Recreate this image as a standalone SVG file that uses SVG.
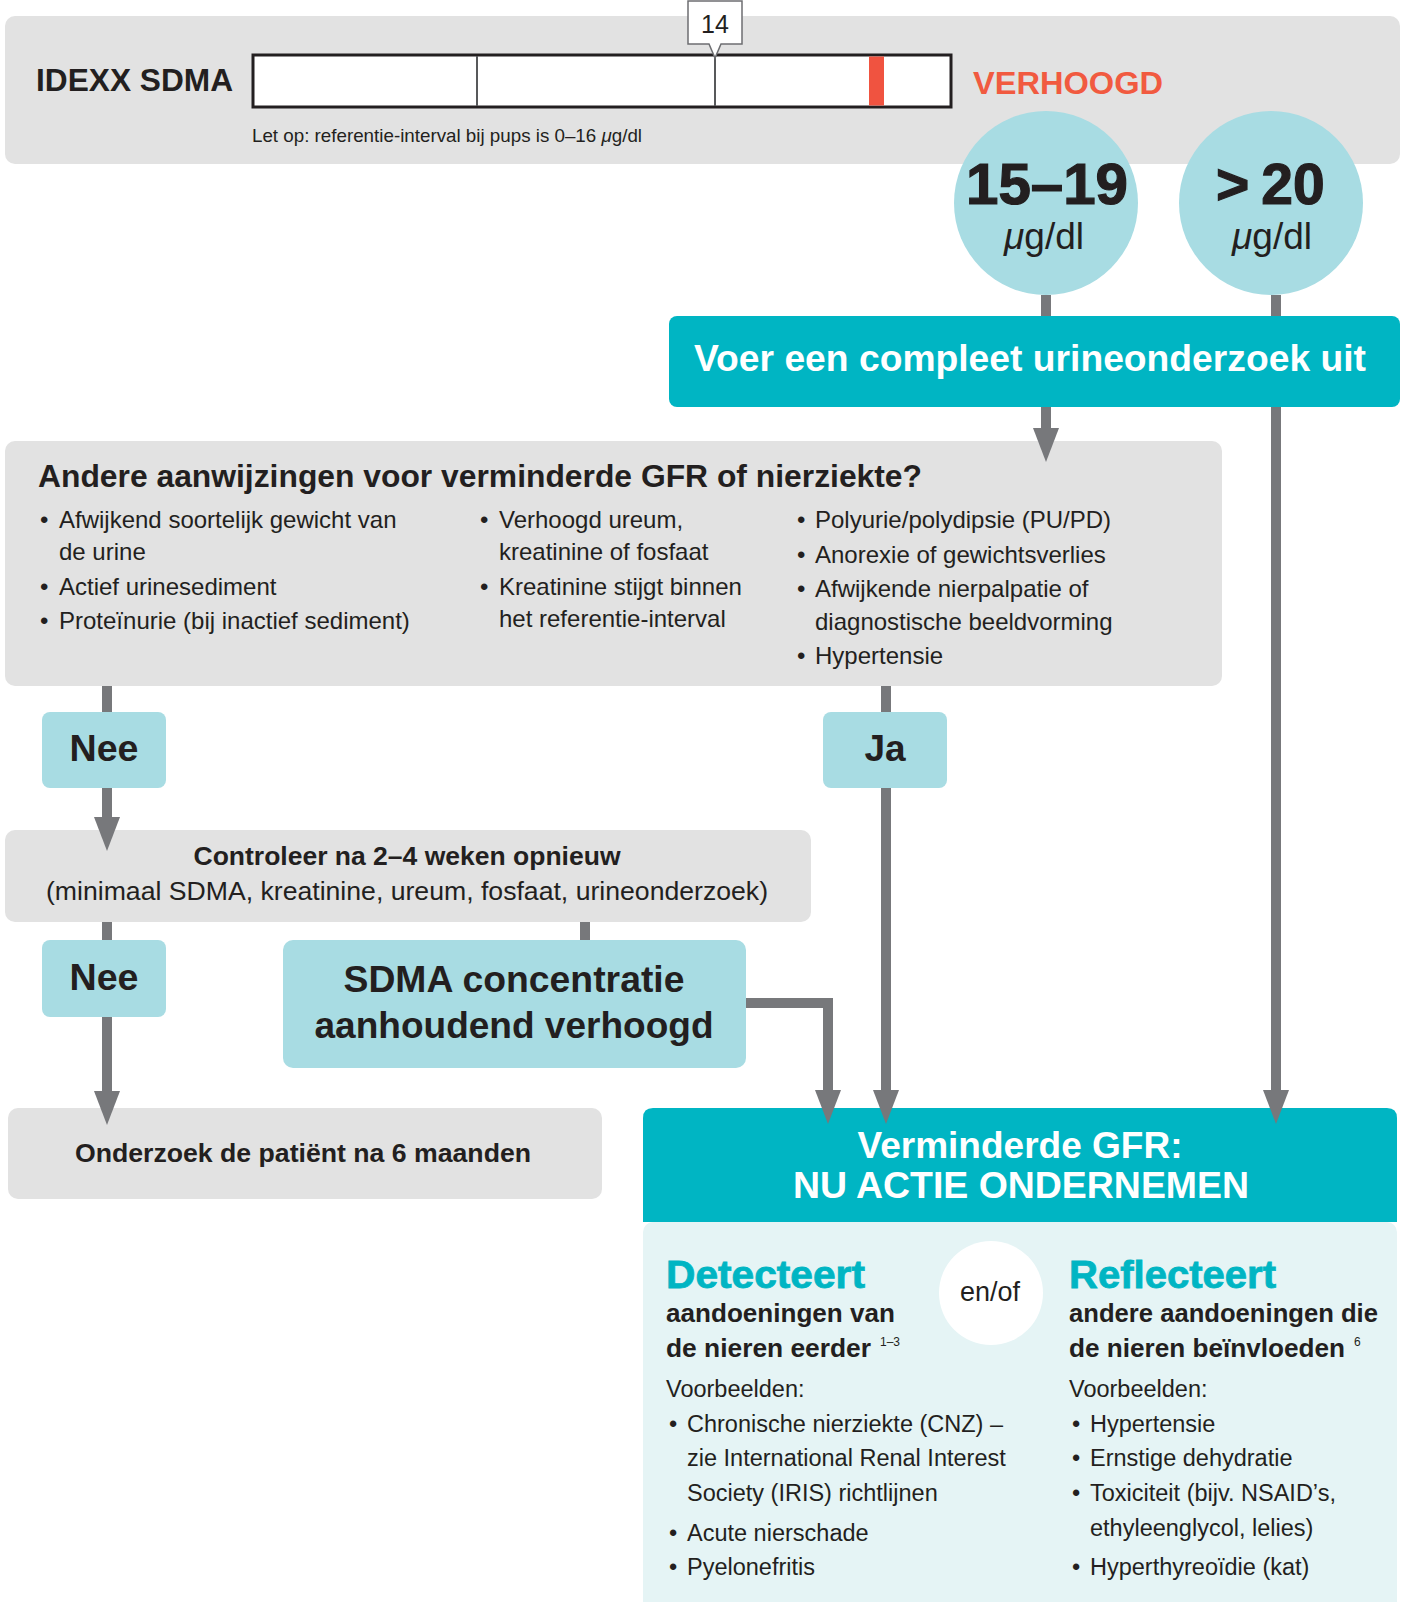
<svg xmlns="http://www.w3.org/2000/svg" width="1405" height="1602" viewBox="0 0 1405 1602">
<style>
text { font-family: "Liberation Sans", Arial, Helvetica, sans-serif; fill: #231f20; }
.b { font-weight: bold; }
.w { fill: #ffffff; }
.grey { fill: #e2e2e2; }
.cyan { fill: #a8dce3; }
.teal { fill: #00b5c3; }
.bul { font-size: 24px; }
.bul2 { font-size: 23.5px; }
.mid { text-anchor: middle; }
.conn { fill: none; stroke: #77787b; stroke-width: 10; stroke-linejoin: miter; }
</style>
<defs>
<marker id="ah" markerUnits="userSpaceOnUse" markerWidth="34" markerHeight="26" viewBox="0 0 34 26" refX="1" refY="13" orient="auto">
<path d="M0,0 L34,13 L0,26 Z" fill="#77787b"/>
</marker>
</defs>

<g id="sdma-scale">
<rect class="grey" x="5" y="16" width="1395" height="148" rx="10"/>
<text class="b" x="36" y="91" font-size="31.5" textLength="197" lengthAdjust="spacingAndGlyphs">IDEXX SDMA</text>
<rect x="253" y="55" width="698" height="52" fill="#ffffff" stroke="#231f20" stroke-width="3"/>
<line x1="477" y1="56" x2="477" y2="106" stroke="#58595b" stroke-width="2"/>
<line x1="715" y1="56" x2="715" y2="106" stroke="#58595b" stroke-width="2"/>
<rect x="869" y="56.5" width="15" height="49" fill="#f05340"/>
<path d="M688,1 H742 V44 H721 L715,58 L709,44 H688 Z" fill="#ffffff" stroke="#6d6e71" stroke-width="1.5"/>
<text class="mid" x="715" y="33" font-size="25">14</text>
<text class="b" x="973" y="94" font-size="32" style="fill:#f15a40" textLength="190" lengthAdjust="spacingAndGlyphs">VERHOOGD</text>
<text x="252" y="142" font-size="18.5" textLength="390" lengthAdjust="spacingAndGlyphs">Let op: referentie-interval bij pups is 0–16 <tspan font-style="italic">μ</tspan>g/dl</text>
</g>

<g id="circle-15-19">
<circle class="cyan" cx="1046" cy="203" r="92"/>
<text class="b mid" x="1047" y="204" font-size="57" stroke="#231f20" stroke-width="1.2" textLength="162" lengthAdjust="spacingAndGlyphs">15–19</text>
<text class="mid" x="1044" y="249" font-size="37"><tspan font-style="italic">μ</tspan>g/dl</text>
</g>

<g id="circle-20">
<circle class="cyan" cx="1271" cy="203" r="92"/>
<text class="b" x="1216" y="204" font-size="57" stroke="#231f20" stroke-width="1.2"><tspan>&gt;</tspan><tspan dx="12">20</tspan></text>
<text class="mid" x="1272" y="249" font-size="37"><tspan font-style="italic">μ</tspan>g/dl</text>
</g>

<g id="urine-test">
<rect class="teal" x="669" y="316" width="731" height="91" rx="8"/>
<text class="b w" x="694" y="371" font-size="37" textLength="672" lengthAdjust="spacingAndGlyphs">Voer een compleet urineonderzoek uit</text>
</g>

<g id="other-signs">
<rect class="grey" x="5" y="441" width="1217" height="245" rx="10"/>
<text class="b" x="38" y="487" font-size="31" textLength="884" lengthAdjust="spacingAndGlyphs">Andere aanwijzingen voor verminderde GFR of nierziekte?</text>
<g class="bul">
<text x="40" y="528">•</text><text x="59" y="528">Afwijkend soortelijk gewicht van</text>
<text x="59" y="560">de urine</text>
<text x="40" y="595">•</text><text x="59" y="595">Actief urinesediment</text>
<text x="40" y="629">•</text><text x="59" y="629">Proteïnurie (bij inactief sediment)</text>
<text x="480" y="528">•</text><text x="499" y="528">Verhoogd ureum,</text>
<text x="499" y="560">kreatinine of fosfaat</text>
<text x="480" y="595">•</text><text x="499" y="595">Kreatinine stijgt binnen</text>
<text x="499" y="627">het referentie-interval</text>
<text x="797" y="528">•</text><text x="815" y="528">Polyurie/polydipsie (PU/PD)</text>
<text x="797" y="563">•</text><text x="815" y="563">Anorexie of gewichtsverlies</text>
<text x="797" y="597">•</text><text x="815" y="597">Afwijkende nierpalpatie of</text>
<text x="815" y="630">diagnostische beeldvorming</text>
<text x="797" y="664">•</text><text x="815" y="664">Hypertensie</text>
</g>
</g>

<g id="nee-1">
<rect class="cyan" x="42" y="712" width="124" height="76" rx="8"/>
<text class="b mid" x="104" y="761" font-size="37" textLength="69" lengthAdjust="spacingAndGlyphs">Nee</text>
</g>

<g id="ja">
<rect class="cyan" x="823" y="712" width="124" height="76" rx="8"/>
<text class="b mid" x="885" y="761" font-size="37">Ja</text>
</g>

<g id="recheck">
<rect class="grey" x="5" y="830" width="806" height="92" rx="10"/>
<text class="b mid" x="407" y="865" font-size="26" textLength="427" lengthAdjust="spacingAndGlyphs">Controleer na 2–4 weken opnieuw</text>
<text class="mid" x="407" y="900" font-size="26.5" textLength="722" lengthAdjust="spacingAndGlyphs">(minimaal SDMA, kreatinine, ureum, fosfaat, urineonderzoek)</text>
</g>

<g id="nee-2">
<rect class="cyan" x="42" y="940" width="124" height="77" rx="8"/>
<text class="b mid" x="104" y="990" font-size="37" textLength="69" lengthAdjust="spacingAndGlyphs">Nee</text>
</g>

<g id="persistent">
<rect class="cyan" x="283" y="940" width="463" height="128" rx="10"/>
<text class="b mid" x="514" y="992" font-size="37" textLength="341" lengthAdjust="spacingAndGlyphs">SDMA concentratie</text>
<text class="b mid" x="514" y="1038" font-size="37" textLength="399" lengthAdjust="spacingAndGlyphs">aanhoudend verhoogd</text>
</g>

<g id="six-months">
<rect class="grey" x="8" y="1108" width="594" height="91" rx="10"/>
<text class="b mid" x="303" y="1162" font-size="26.5" textLength="456" lengthAdjust="spacingAndGlyphs">Onderzoek de patiënt na 6 maanden</text>
</g>

<g id="reduced-gfr">
<path class="teal" d="M643,1222 V1118 Q643,1108 653,1108 H1387 Q1397,1108 1397,1118 V1222 Z"/>
<rect x="643" y="1222" width="754" height="390" rx="10" fill="#e5f4f5"/>
<text class="b w mid" x="1020" y="1158" font-size="37" textLength="325" lengthAdjust="spacingAndGlyphs">Verminderde GFR:</text>
<text class="b w mid" x="1021" y="1198" font-size="37" textLength="456" lengthAdjust="spacingAndGlyphs">NU ACTIE ONDERNEMEN</text>
<circle cx="991" cy="1293" r="52" fill="#ffffff"/>
<text class="mid" x="990" y="1301" font-size="27" textLength="60" lengthAdjust="spacingAndGlyphs">en/of</text>

<text class="b" x="666" y="1288" font-size="38" style="fill:#00b5c3" stroke="#00b5c3" stroke-width="0.8" textLength="199" lengthAdjust="spacingAndGlyphs">Detecteert</text>
<text class="b" x="666" y="1322" font-size="26" textLength="229" lengthAdjust="spacingAndGlyphs">aandoeningen van</text>
<text class="b" x="666" y="1357" font-size="26" textLength="205" lengthAdjust="spacingAndGlyphs">de nieren eerder</text>
<text x="880" y="1346" font-size="12">1–3</text>
<text x="666" y="1397" class="bul2">Voorbeelden:</text>
<g class="bul2">
<text x="669" y="1432">•</text><text x="687" y="1432">Chronische nierziekte (CNZ) –</text>
<text x="687" y="1466">zie International Renal Interest</text>
<text x="687" y="1501">Society (IRIS) richtlijnen</text>
<text x="669" y="1541">•</text><text x="687" y="1541">Acute nierschade</text>
<text x="669" y="1575">•</text><text x="687" y="1575">Pyelonefritis</text>
</g>

<text class="b" x="1069" y="1288" font-size="38" style="fill:#00b5c3" stroke="#00b5c3" stroke-width="0.8" textLength="207" lengthAdjust="spacingAndGlyphs">Reflecteert</text>
<text class="b" x="1069" y="1322" font-size="26" textLength="309" lengthAdjust="spacingAndGlyphs">andere aandoeningen die</text>
<text class="b" x="1069" y="1357" font-size="26" textLength="276" lengthAdjust="spacingAndGlyphs">de nieren beïnvloeden</text>
<text x="1354" y="1346" font-size="12">6</text>
<text x="1069" y="1397" class="bul2">Voorbeelden:</text>
<g class="bul2">
<text x="1072" y="1432">•</text><text x="1090" y="1432">Hypertensie</text>
<text x="1072" y="1466">•</text><text x="1090" y="1466">Ernstige dehydratie</text>
<text x="1072" y="1501">•</text><text x="1090" y="1501">Toxiciteit (bijv. NSAID’s,</text>
<text x="1090" y="1536">ethyleenglycol, lelies)</text>
<text x="1072" y="1575">•</text><text x="1090" y="1575">Hyperthyreoïdie (kat)</text>
</g>
</g>

<g id="connectors">
<path class="conn" d="M1046,295 V316"/>
<path class="conn" d="M1276,295 V316"/>
<path class="conn" d="M1046,407 V429" marker-end="url(#ah)"/>
<path class="conn" d="M1276,407 V1091" marker-end="url(#ah)"/>
<path class="conn" d="M107,686 V712"/>
<path class="conn" d="M886,686 V712"/>
<path class="conn" d="M107,788 V818" marker-end="url(#ah)"/>
<path class="conn" d="M886,788 V1091" marker-end="url(#ah)"/>
<path class="conn" d="M107,922 V940"/>
<path class="conn" d="M585,922 V940"/>
<path class="conn" d="M107,1017 V1092" marker-end="url(#ah)"/>
<path class="conn" d="M746,1003 H828 V1091" marker-end="url(#ah)"/>
</g>
</svg>
